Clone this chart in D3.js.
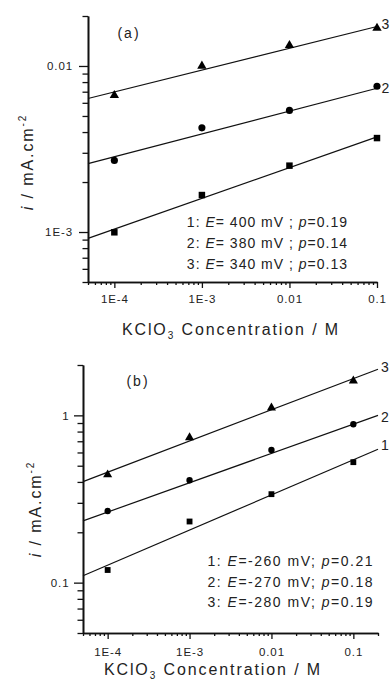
<!DOCTYPE html>
<html>
<head>
<meta charset="utf-8">
<script src="https://cdn.jsdelivr.net/npm/d3@7"></script>
<style>
  html, body { margin: 0; padding: 0; background: #fff; }
  svg { display: block; font-family: 'Liberation Sans', Arial, sans-serif; }
  .axis path, .axis line { stroke: #111; }
  .axis path { stroke-width: 1.6; }
  .axis line { stroke-width: 1.3; }
  .axis text { font-size: 11.5px; fill: #222; letter-spacing: 0.9px; font-family: 'Liberation Sans', Arial, sans-serif; }
</style>
</head>
<body>
<div id="chart"></div>
<script>
// measured points: KClO3 concentration (M) vs current density (mA.cm-2)
const concentrations = [1e-4, 1e-3, 0.01, 0.1];

// panel (a)
const aSquares = [0.000996, 0.00167, 0.00251, 0.00368];
const aCircles = [0.0027, 0.00424, 0.0054, 0.00755];
const aTriangles = [0.00666, 0.0100, 0.0133, 0.0169];
// fitted lines, value at both ends
const aFitX = [5e-5, 0.1];
const aFitSquares = [0.000916, 0.00374];
const aFitCircles = [0.00258, 0.00734];
const aFitTriangles = [0.00637, 0.0173];
const aE = ['400', '380', '340'];
const aP = ['0.19', '0.14', '0.13'];

// panel (b)
const bSquares = [0.119, 0.232, 0.338, 0.525];
const bCircles = [0.268, 0.409, 0.621, 0.885];
const bTriangles = [0.442, 0.736, 1.11, 1.61];
const bFitX = [5e-5, 0.2];
const bFitSquares = [0.110, 0.627];
const bFitCircles = [0.234, 1.0];
const bFitTriangles = [0.402, 1.886];
const bE = ['-260', '-270', '-280'];
const bP = ['0.21', '0.18', '0.19'];

// ticks
const xTickValues = [1e-4, 1e-3, 0.01, 0.1];
const xTickLabels = ['1E-4', '1E-3', '0.01', '0.1'];
const aYTickValues = [1e-3, 0.01];
const aYTickLabels = ['1E-3', '0.01'];
const bYTickValues = [0.1, 1];
const bYTickLabels = ['0.1', '1'];

let width = 390;
let height = 681;

let svg = d3
  .select('#chart')
  .append('svg')
  .attr('width', width)
  .attr('height', height);

svg.append('rect').attr('width', width).attr('height', height).attr('fill', '#fff');

//minor ticks 2..9 of each decade inside the domain
function minorTicks(domain) {
  let out = [];
  let lo = Math.floor(Math.log10(domain[0]));
  let hi = Math.ceil(Math.log10(domain[1]));
  for (let d = lo; d <= hi; d++) {
    for (let k = 2; k <= 9; k++) {
      let v = k * Math.pow(10, d);
      if (v >= domain[0] * 0.999 && v <= domain[1] * 1.001) out.push(v);
    }
  }
  return out;
}

function drawPanel(p) {
  let g = svg.append('g');

  let x = d3.scaleLog().domain(p.xDomain).range(p.xRange);
  let y = d3.scaleLog().domain(p.yDomain).range(p.yRange);

  //x axis: minor then major
  g.append('g')
    .attr('class', 'axis')
    .attr('transform', `translate(0, ${p.yRange[0]})`)
    .call(d3.axisBottom(x).tickValues(minorTicks(p.xDomain)).tickSize(3).tickSizeOuter(0).tickFormat(''));
  g.append('g')
    .attr('class', 'axis')
    .attr('transform', `translate(0, ${p.yRange[0]})`)
    .call(
      d3.axisBottom(x)
        .tickValues(xTickValues)
        .tickSize(6)
        .tickPadding(p.xPad)
        .tickSizeOuter(0)
        .tickFormat((d, i) => xTickLabels[i]),
    );

  //y axis
  g.append('g')
    .attr('class', 'axis')
    .attr('transform', `translate(${p.xRange[0]}, 0)`)
    .call(d3.axisLeft(y).tickValues(minorTicks(p.yDomain)).tickSize(5.5).tickSizeOuter(0).tickFormat(''));
  g.append('g')
    .attr('class', 'axis')
    .attr('transform', `translate(${p.xRange[0]}, 0)`)
    .call(
      d3.axisLeft(y)
        .tickValues(p.yTicks)
        .tickSize(9)
        .tickPadding(p.yPad)
        .tickSizeOuter(0)
        .tickFormat((d, i) => p.yLabels[i]),
    );

  //fit lines
  let line = d3
    .line()
    .x((d) => x(d[0]))
    .y((d) => y(d[1]));
  p.series.forEach((s) => {
    g.append('path')
      .datum(p.fitX.map((v, i) => [v, s.fit[i]]))
      .attr('d', line)
      .attr('fill', 'none')
      .attr('stroke', '#111')
      .attr('stroke-width', 1.2);
  });

  //markers
  p.series.forEach((s) => {
    g.append('g')
      .selectAll('path')
      .data(concentrations.map((c, i) => [c, s.values[i]]))
      .enter()
      .append('path')
      .attr('d', d3.symbol().type(s.symbol).size(s.size))
      .attr('transform', (d) => `translate(${x(d[0])}, ${y(d[1])})`)
      .attr('fill', '#000');
  });

  //curve numbers at the right end
  p.series.forEach((s) => {
    if (!s.tag) return;
    g.append('text')
      .attr('x', p.tagX)
      .attr('y', y(s.fit[1]) + s.tagDy)
      .text(s.tag)
      .style('font-size', '14px')
      .style('fill', '#222');
  });

  //panel letter
  g.append('text')
    .attr('x', p.letterPos[0])
    .attr('y', p.letterPos[1])
    .attr('text-anchor', 'middle')
    .text(p.letter)
    .style('font-size', '14px')
    .style('letter-spacing', '2px')
    .style('fill', '#222');

  //legend block
  let legend = g
    .append('text')
    .attr('text-anchor', 'end')
    .style('font-size', '14px')
    .style('letter-spacing', p.legendSpacing)
    .style('fill', '#222');
  p.E.forEach((e, i) => {
    let t = legend
      .append('tspan')
      .attr('x', p.legendPos[0])
      .attr('y', p.legendPos[1] + i * p.legendStep);
    t.append('tspan').text(`${i + 1}: `);
    t.append('tspan').style('font-style', 'italic').text('E');
    t.append('tspan').text(p.eSep + e + ' mV' + p.semi);
    t.append('tspan').style('font-style', 'italic').text('p');
    t.append('tspan').text('=' + p.P[i]);
  });

  //x title
  let xt = g
    .append('text')
    .attr('x', p.xTitlePos[0])
    .attr('y', p.xTitlePos[1])
    .attr('text-anchor', 'middle')
    .style('font-size', '16px')
    .style('letter-spacing', '1.9px')
    .style('fill', '#222');
  xt.append('tspan').text('KClO');
  xt.append('tspan').attr('dy', 4).style('font-size', '10px').text('3');
  xt.append('tspan').attr('dy', -4).text(' Concentration / M');

  //y title
  let yt = g
    .append('text')
    .attr('transform', `translate(${p.yTitlePos[0]}, ${p.yTitlePos[1]}) rotate(-90)`)
    .attr('text-anchor', 'middle')
    .style('font-size', '16px')
    .style('letter-spacing', '1.9px')
    .style('fill', '#222');
  yt.append('tspan').style('font-style', 'italic').text('i');
  yt.append('tspan').text(' / mA.cm');
  yt.append('tspan').attr('dy', -7).style('font-size', '10px').text('-2');
}

drawPanel({
  xDomain: [5e-5, 0.1],
  xRange: [88, 377],
  yDomain: [5e-4, 0.02],
  yRange: [282, 16],
  xPad: 6.5,
  yPad: 6,
  yTicks: aYTickValues,
  yLabels: aYTickLabels,
  fitX: aFitX,
  tagX: 381.5,
  series: [
    { values: aSquares, fit: aFitSquares, symbol: d3.symbolSquare, size: 42, tag: null },
    { values: aCircles, fit: aFitCircles, symbol: d3.symbolCircle, size: 40, tag: '2', tagDy: 5 },
    { values: aTriangles, fit: aFitTriangles, symbol: d3.symbolTriangle, size: 38, tag: '3', tagDy: 3 },
  ],
  letter: '(a)',
  letterPos: [129, 38],
  E: aE,
  P: aP,
  eSep: '= ',
  semi: ' ; ',
  legendPos: [348, 227],
  legendStep: 20.8,
  legendSpacing: '1px',
  xTitlePos: [231, 335],
  yTitlePos: [33, 162],
});

drawPanel({
  xDomain: [5e-5, 0.2],
  xRange: [83, 378],
  yDomain: [0.05, 2],
  yRange: [633, 365],
  xPad: 8.5,
  yPad: 4.5,
  yTicks: bYTickValues,
  yLabels: bYTickLabels,
  fitX: bFitX,
  tagX: 381,
  series: [
    { values: bSquares, fit: bFitSquares, symbol: d3.symbolSquare, size: 34, tag: '1', tagDy: 1 },
    { values: bCircles, fit: bFitCircles, symbol: d3.symbolCircle, size: 32, tag: '2', tagDy: 7 },
    { values: bTriangles, fit: bFitTriangles, symbol: d3.symbolTriangle, size: 36, tag: '3', tagDy: 3 },
  ],
  letter: '(b)',
  letterPos: [138, 386],
  E: bE,
  P: bP,
  eSep: '=',
  semi: '; ',
  legendPos: [374, 566],
  legendStep: 20.5,
  legendSpacing: '1.5px',
  xTitlePos: [213, 675],
  yTitlePos: [41, 509],
});
</script>
</body>
</html>
